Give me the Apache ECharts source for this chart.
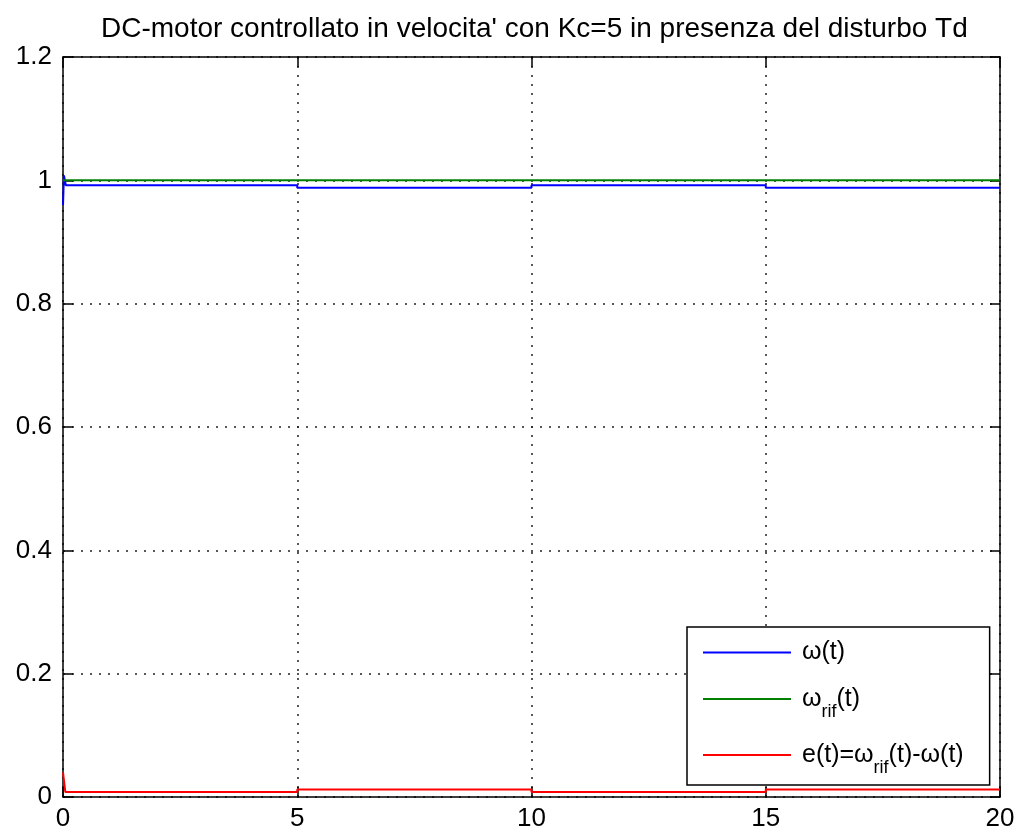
<!DOCTYPE html>
<html>
<head>
<meta charset="utf-8">
<script src="https://cdn.jsdelivr.net/npm/echarts@6/dist/echarts.min.js"></script>
<style>
html,body{margin:0;padding:0;background:#fff;}
#chart{width:1023px;height:836px;}
</style>
</head>
<body>
<div id="chart"></div>
<script>
// omega(t), velocita' misurata (t in s)
var omega = [[0,0.96],[0.02,1.008],[0.06,0.992],[5,0.992],[5,0.988],[10,0.988],[10,0.992],[15,0.992],[15,0.988],[20,0.988]];
// riferimento
var omegaRif = [[0,1],[20,1]];
// errore e(t)
var errore = [[0,0.04],[0.05,0.008],[5,0.008],[5,0.012],[10,0.012],[10,0.008],[15,0.008],[15,0.012],[20,0.012]];
var xTicks = [0, 5, 10, 15, 20];
var yTicks = [0, 0.2, 0.4, 0.6, 0.8, 1, 1.2];

var chart = echarts.init(document.getElementById('chart'));
var fnt = '"Liberation Sans", Arial, Helvetica, sans-serif';
var legendText = {
    'w': '{a|ω(t)}',
    'wrif': '{a|ω}{s|rif}{a|(t)}',
    'e': '{a|e(t)=ω}{s|rif}{a|(t)-ω(t)}'
};
var tick = {inside: true, length: 10, lineStyle: {color: '#000', width: 1.5}};
var axLine = {show: true, onZero: false, lineStyle: {color: '#000', width: 1.5}};
var dots = {show: true, lineStyle: {color: '#222', type: [2, 7], width: 1.5}};
var option = {
    animation: false,
    backgroundColor: '#fff',
    title: {
        text: "DC-motor controllato in velocita' con Kc=5 in presenza del disturbo Td",
        left: 96,
        top: 10,
        textStyle: {fontFamily: fnt, fontSize: 28, fontWeight: 'normal', color: '#000'}
    },
    legend: {
        orient: 'vertical',
        left: 687,
        top: 627,
        padding: [13, 26, 8, 16],
        icon: 'rect',
        itemWidth: 88,
        itemHeight: 2,
        itemGap: 12,
        backgroundColor: '#fff',
        borderColor: '#000',
        borderWidth: 1.5,
        borderRadius: 0,
        data: ['w', 'wrif', 'e'],
        formatter: function (name) { return legendText[name]; },
        textStyle: {
            rich: {
                a: {fontFamily: fnt, fontSize: 25, color: '#000', verticalAlign: 'middle', lineHeight: 28},
                s: {fontFamily: fnt, fontSize: 18, color: '#000', verticalAlign: 'middle', lineHeight: 20, padding: [26, 0, 0, 0]}
            },
            padding: [0, 0, 0, 6]
        }
    },
    grid: {left: 63, right: 23, top: 57, bottom: 39, show: false},
    xAxis: [{
        type: 'value', min: xTicks[0], max: xTicks[xTicks.length - 1], interval: 5,
        axisLine: axLine, axisTick: tick,
        axisLabel: {fontFamily: fnt, fontSize: 26, color: '#000', margin: 9},
        splitLine: dots
    }, {
        type: 'value', position: 'top', min: 0, max: 20, interval: 5,
        axisLine: axLine, axisTick: tick,
        axisLabel: {show: false}, splitLine: {show: false}
    }],
    yAxis: [{
        type: 'value', position: 'left', min: yTicks[0], max: yTicks[yTicks.length - 1], interval: 0.2,
        axisLine: axLine, axisTick: tick,
        axisLabel: {fontFamily: fnt, fontSize: 26, color: '#000', margin: 11,
            formatter: function (v) { return String(Math.round(v * 10) / 10); }},
        splitLine: dots
    }, {
        type: 'value', position: 'right', min: 0, max: 1.2, interval: 0.2,
        axisLine: axLine, axisTick: tick,
        axisLabel: {show: false}, splitLine: {show: false}
    }],
    series: [
        {name: 'w', type: 'line', data: omega, showSymbol: false, symbol: 'none',
            lineStyle: {color: '#0000ff', width: 2}, itemStyle: {color: '#0000ff'}},
        {name: 'wrif', type: 'line', data: omegaRif, showSymbol: false, symbol: 'none',
            lineStyle: {color: '#008000', width: 2}, itemStyle: {color: '#008000'}},
        {name: 'e', type: 'line', data: errore, showSymbol: false, symbol: 'none',
            lineStyle: {color: '#ff0000', width: 2}, itemStyle: {color: '#ff0000'}}
    ]
};
chart.setOption(option);
</script>
</body>
</html>
